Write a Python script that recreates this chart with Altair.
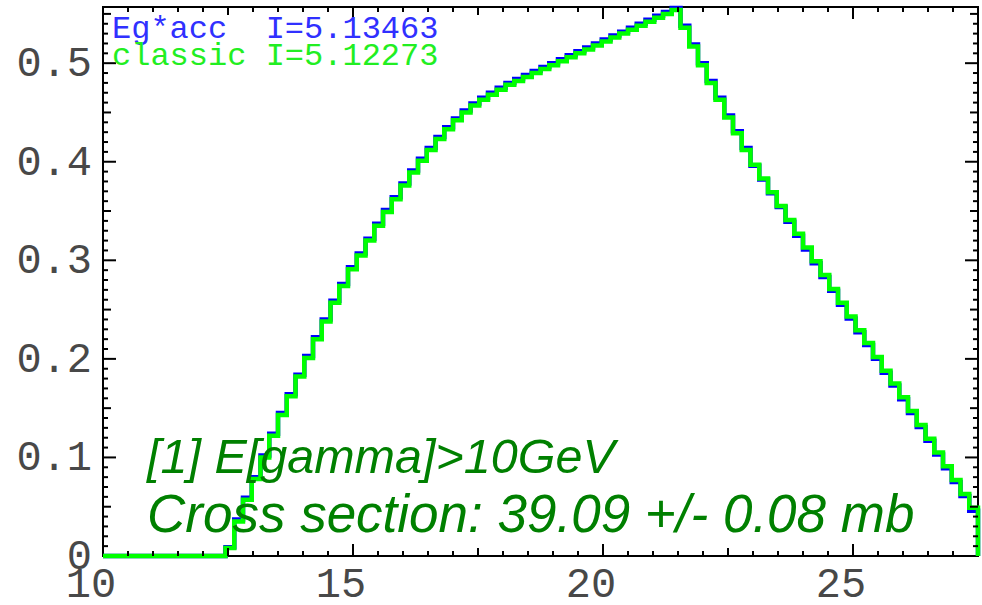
import altair as alt
import pandas as pd

# ---------------- data ----------------
x_lo, x_hi, n_bins = 10.0, 27.5, 100
bin_w = (x_hi - x_lo) / n_bins

green_vals = [0.0] * 14 + [
    0.008, 0.035, 0.057, 0.078, 0.100, 0.122, 0.143, 0.162, 0.182, 0.201,
    0.220, 0.238, 0.257, 0.274, 0.291, 0.305, 0.320, 0.335, 0.349, 0.362,
    0.376, 0.389, 0.401, 0.412, 0.423, 0.433, 0.442, 0.450, 0.457, 0.463,
    0.468, 0.473,
    0.478, 0.482, 0.486, 0.490, 0.494, 0.498, 0.502, 0.506, 0.510, 0.514,
    0.518, 0.522, 0.526, 0.530, 0.534, 0.538, 0.542, 0.546, 0.550, 0.554,
    0.536, 0.517, 0.498, 0.480, 0.463, 0.445, 0.429, 0.412,
    0.397, 0.383, 0.369, 0.355, 0.341, 0.327, 0.313, 0.299, 0.285, 0.271,
    0.257, 0.243, 0.229, 0.216, 0.202, 0.188, 0.175, 0.161, 0.147, 0.133,
    0.119, 0.105, 0.091, 0.077, 0.063, 0.049,
]
blue_vals = [0.0] * 14 + [
    0.009, 0.037, 0.059, 0.080, 0.102, 0.124, 0.145, 0.164, 0.184, 0.203,
    0.222, 0.240, 0.259, 0.276, 0.293, 0.307, 0.322, 0.337, 0.351, 0.364,
    0.378, 0.391, 0.403, 0.414, 0.425, 0.435, 0.444, 0.452, 0.459, 0.465,
    0.470, 0.475,
    0.480, 0.484, 0.488, 0.492, 0.496, 0.500, 0.504, 0.508, 0.512, 0.516,
    0.520, 0.524, 0.528, 0.532, 0.536, 0.540, 0.544, 0.548, 0.552, 0.556,
    0.538, 0.519, 0.500, 0.482, 0.465, 0.447, 0.431, 0.414,
    0.396, 0.382, 0.368, 0.354, 0.339, 0.325, 0.311, 0.297, 0.283, 0.269,
    0.255, 0.241, 0.227, 0.214, 0.200, 0.186, 0.173, 0.159, 0.145, 0.131,
    0.117, 0.103, 0.089, 0.075, 0.061, 0.046,
]

x_tick_labels = [10, 15, 20, 25]
y_tick_labels = [0, 0.1, 0.2, 0.3, 0.4, 0.5]
x_major = [15, 20, 25]
x_medium = [12.5, 17.5, 22.5]
x_minor = [10 + 0.5 * k for k in range(1, 35) if (0.5 * k) % 2.5 != 0]
y_major = [0.1, 0.2, 0.3, 0.4, 0.5]
y_medium = [0.05, 0.15, 0.25, 0.35, 0.45, 0.55]
y_minor = [round(0.01 * k, 2) for k in range(1, 56) if k % 5 != 0]

legend_lines = ["Eg*acc\u00a0 I=5.13463", "classic I=5.12273"]
note_lines = ["[1] E[gamma]>10GeV", "Cross section: 39.09 +/- 0.08 mb"]

# ---------------- build ----------------
W, H = 875, 549
xs = alt.Scale(domain=[x_lo, x_hi], nice=False, zero=False)
ys = alt.Scale(domain=[0, 0.557], nice=False, zero=True)
LABEL_COLOR = "#484848"


def hist_df(vals, name):
    rows = [{"x": x_lo + bin_w * i, "y": v, "s": name} for i, v in enumerate(vals)]
    rows.append({"x": x_hi, "y": 0.0, "s": name})
    return pd.DataFrame(rows)


blue = alt.Chart(hist_df(blue_vals, "blue")).mark_line(
    interpolate="step-after", color="#0000ff", strokeWidth=4.5, strokeJoin="miter"
).encode(x=alt.X("x:Q", scale=xs, axis=None), y=alt.Y("y:Q", scale=ys, axis=None))

green = alt.Chart(hist_df(green_vals, "green")).mark_line(
    interpolate="step-after", color="#00ff00", strokeWidth=4.5, strokeJoin="miter"
).encode(x=alt.X("x:Q", scale=xs, axis=None), y=alt.Y("y:Q", scale=ys, axis=None))

x_labels = alt.Chart(pd.DataFrame({"v": x_tick_labels})).mark_text(
    font="Liberation Mono", fontSize=42, color=LABEL_COLOR, baseline="alphabetic",
    align="center", dx=-12
).encode(x=alt.X("v:Q", scale=xs, axis=None), y=alt.value(H + 41), text=alt.Text("v:Q"))

y_labels = alt.Chart(pd.DataFrame({"v": y_tick_labels})).mark_text(
    font="Liberation Mono", fontSize=42, color=LABEL_COLOR, baseline="middle",
    align="right"
).encode(y=alt.Y("v:Q", scale=ys, axis=None), x=alt.value(-11),
         text=alt.Text("v:Q", format="~g"))


def xticks(vals, length):
    df = pd.DataFrame({"v": vals})
    base = alt.Chart(df).mark_rule(color="black", strokeWidth=2)
    bot = base.encode(x=alt.X("v:Q", scale=xs, axis=None), y=alt.value(H), y2=alt.value(H - length))
    top = base.encode(x=alt.X("v:Q", scale=xs, axis=None), y=alt.value(0), y2=alt.value(length))
    return [bot, top]


def yticks(vals, length):
    df = pd.DataFrame({"v": vals})
    base = alt.Chart(df).mark_rule(color="black", strokeWidth=2)
    left = base.encode(y=alt.Y("v:Q", scale=ys, axis=None), x=alt.value(0), x2=alt.value(length))
    right = base.encode(y=alt.Y("v:Q", scale=ys, axis=None), x=alt.value(W), x2=alt.value(W - length))
    return [left, right]


tick_layers = (xticks(x_major, 12) + xticks(x_medium, 8) + xticks(x_minor, 5)
               + yticks(y_major, 13) + yticks(y_medium, 8) + yticks(y_minor, 5))


def text_layer(txt, px, py, color, font, size, style="normal"):
    return alt.Chart(pd.DataFrame({"t": [txt]})).mark_text(
        align="left", baseline="alphabetic", color=color, font=font,
        fontSize=size, fontStyle=style
    ).encode(text="t:N", x=alt.value(px), y=alt.value(py))


texts = [
    text_layer(legend_lines[0], 9, 31, "#3030ff", "Liberation Mono", 32),
    text_layer(legend_lines[1], 9, 58, "#22ee22", "Liberation Mono", 32),
    text_layer(note_lines[0], 44, 466, "#008000", "Liberation Sans", 48.5, "italic"),
    text_layer(note_lines[1], 44, 525, "#008000", "Liberation Sans", 53, "italic"),
]

chart = alt.layer(blue, green, *tick_layers, x_labels, y_labels, *texts).properties(
    width=W, height=H,
    autosize=alt.AutoSizeParams(type="none"),
    padding={"left": 103, "top": 7, "right": 4, "bottom": 49},
    background="white",
).configure_view(stroke="black", strokeWidth=2)

chart.save("out.html", embed_options={"renderer": "svg", "actions": False})
